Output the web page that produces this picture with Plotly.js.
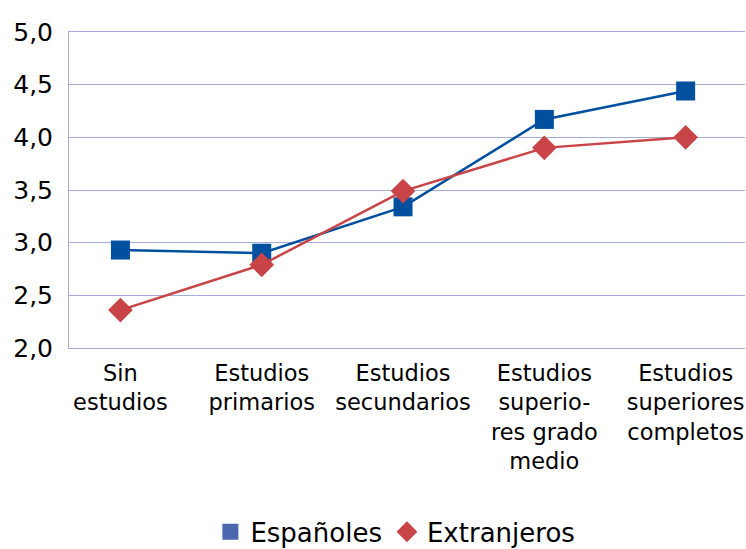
<!DOCTYPE html>
<html>
<head>
<meta charset="utf-8">
<script src="https://cdn.plot.ly/plotly-3.0.1.min.js"></script>
<style>html,body{margin:0;padding:0;background:#fff;}#chart{width:746px;height:549px;}</style>
</head>
<body>
<div id="chart"></div>
<script>
const categories = [
  "Sin<br>estudios",
  "Estudios<br>primarios",
  "Estudios<br>secundarios",
  "Estudios<br>superio-<br>res grado<br>medio",
  "Estudios<br>superiores<br>completos"
];
const espanoles = [2.93, 2.90, 3.34, 4.17, 4.44];
const extranjeros = [2.36, 2.79, 3.49, 3.90, 4.00];
const yTicks = [2.0, 2.5, 3.0, 3.5, 4.0, 4.5, 5.0];

const blue = "#0050A0";
const red = "#C84446";
const grid = "#A4ADD6";

const traces = [
  {x: categories, y: espanoles, type: "scatter", mode: "lines+markers", name: "Españoles",
   line: {color: blue, width: 2.5}, marker: {symbol: "square", size: 19, color: blue}, showlegend: false},
  {x: categories, y: extranjeros, type: "scatter", mode: "lines+markers", name: "Extranjeros",
   line: {color: red, width: 2.5}, marker: {symbol: "diamond", size: 19, color: red}, showlegend: false},
  {x: [null], y: [null], type: "scatter", mode: "markers", name: "Españoles",
   marker: {symbol: "square", size: 16, color: "#4A67B0"}},
  {x: [null], y: [null], type: "scatter", mode: "markers", name: "Extranjeros",
   marker: {symbol: "diamond", size: 16, color: red}}
];

const layout = {
  width: 746, height: 549,
  margin: {l: 69, r: 1, t: 32, b: 201},
  paper_bgcolor: "#fff", plot_bgcolor: "#fff",
  separators: ",.",
  font: {family: "DejaVu Sans, Verdana, sans-serif", color: "#000"},
  xaxis: {
    type: "category", range: [-0.364, 4.42],
    showgrid: false, zeroline: false,
    showline: true, mirror: true, linecolor: grid, linewidth: 1,
    ticks: "", tickfont: {size: 22.5, color: "#000"},
    ticklabelstandoff: 5, automargin: false
  },
  yaxis: {
    range: [2, 5], tickvals: yTicks, tickformat: ".1f",
    showgrid: true, gridcolor: grid, gridwidth: 1,
    zeroline: false, showline: true, linecolor: grid, linewidth: 1,
    ticks: "", tickfont: {size: 25, color: "#000"},
    ticklabelstandoff: 10, automargin: false
  },
  showlegend: true,
  legend: {
    orientation: "h", xref: "container", yref: "container",
    x: 0.53, xanchor: "center", y: 0.074, yanchor: "top",
    font: {size: 26, color: "#000"}, itemwidth: 30, bgcolor: "rgba(0,0,0,0)"
  }
};

Plotly.newPlot("chart", traces, layout, {displayModeBar: false, staticPlot: true});
</script>
</body>
</html>
